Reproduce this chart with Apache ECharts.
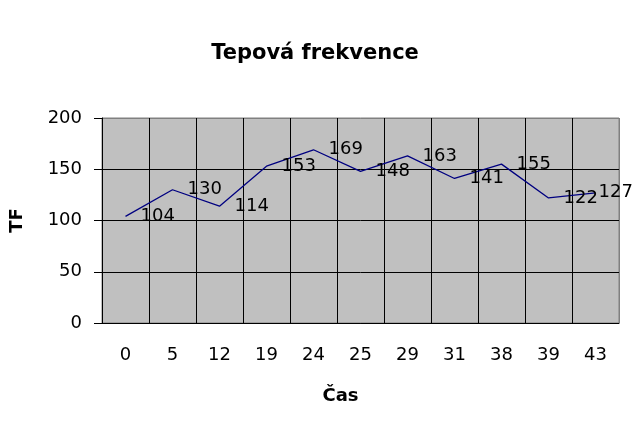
<!DOCTYPE html>
<html>
<head>
  <meta charset="UTF-8">
  <title>Tepová frekvence</title>
  <script src="https://cdn.jsdelivr.net/npm/echarts/dist/echarts.min.js"></script>
  <style>
    html, body { margin: 0; padding: 0; background: #fff; }
    #main { width: 641px; height: 437px; }
  </style>
</head>
<body>
  <div id="main"></div>
  <script>
    var casy = ['0', '5', '12', '19', '24', '25', '29', '31', '38', '39', '43'];
    var tf = [104, 130, 114, 153, 169, 148, 163, 141, 155, 122, 127];

    var myChart = echarts.init(document.getElementById('main'));
    var font = 'DejaVu Sans';

    // the last label is pushed back inside the chart, as in the original
    var seriesData = tf.map(function (v, i) {
      if (i === tf.length - 1) {
        return { value: v, label: { distance: 3 } };
      }
      return v;
    });

    var option = {
      backgroundColor: '#ffffff',
      animation: false,
      title: {
        text: 'Tepová frekvence',
        left: 310,
        top: 38,
        textAlign: 'center',
        textStyle: { fontFamily: font, fontWeight: 'bold', fontSize: 21, color: '#000' }
      },
      grid: {
        left: 100, right: 22, top: 118, bottom: 114,
        show: true,
        backgroundColor: '#c0c0c0',
        borderColor: '#808080',
        borderWidth: 1
      },
      xAxis: {
        type: 'category',
        data: casy,
        name: 'Čas',
        nameLocation: 'middle',
        nameGap: 64,
        nameTextStyle: { fontFamily: font, fontWeight: 'bold', fontSize: 18, color: '#000', padding: [0, 40, 0, 0] },
        axisLine: { lineStyle: { color: '#000', width: 1 } },
        axisTick: { length: 7, lineStyle: { color: '#000' } },
        axisLabel: { fontFamily: font, fontSize: 18, color: '#000', margin: 23 },
        splitLine: {
          show: true,
          lineStyle: { color: ['#000', '#000', '#000', '#000', '#000', '#000', '#000', '#000', '#000', '#000', '#000', '#808080'], width: 1 }
        }
      },
      yAxis: {
        type: 'value',
        min: 0, max: 200, interval: 50,
        name: 'TF',
        nameLocation: 'middle',
        nameGap: 76,
        nameTextStyle: { fontFamily: font, fontWeight: 'bold', fontSize: 18, color: '#000' },
        axisLine: { show: true, lineStyle: { color: '#000', width: 1 } },
        axisTick: { show: true, length: 8, lineStyle: { color: '#000' } },
        axisLabel: { fontFamily: font, fontSize: 18, color: '#000', margin: 20 },
        splitLine: {
          show: true,
          lineStyle: { color: ['#000', '#000', '#000', '#000', '#808080'], width: 1 }
        }
      },
      series: [{
        type: 'line',
        data: seriesData,
        symbol: 'circle',
        symbolSize: 0,
        lineStyle: { color: '#000080', width: 1.3 },
        itemStyle: { color: '#000080' },
        label: {
          show: true,
          position: 'right',
          distance: 15,
          fontFamily: font,
          fontSize: 18,
          color: '#000'
        }
      }]
    };

    myChart.setOption(option);
  </script>
</body>
</html>
